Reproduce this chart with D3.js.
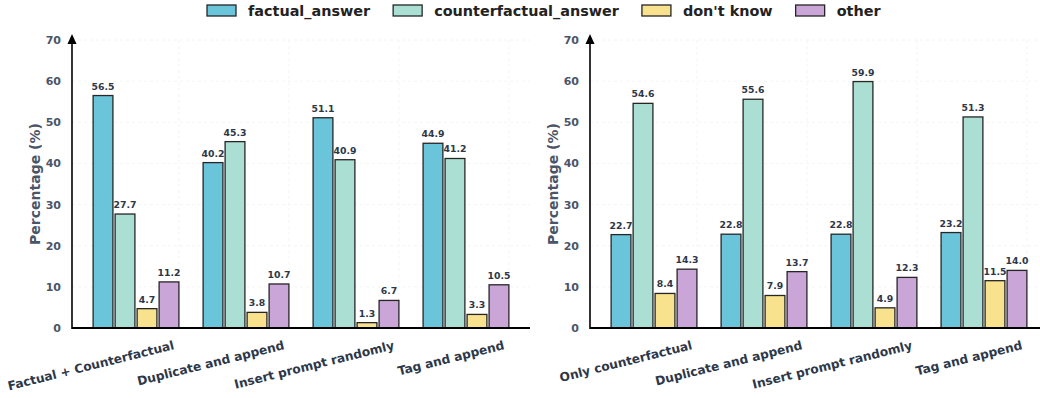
<!DOCTYPE html>
<html>
<head>
<meta charset="utf-8">
<script src="https://cdn.jsdelivr.net/npm/d3@7"></script>
<style>
  html, body { margin: 0; padding: 0; background: #fff; }
  svg { display: block; font-family: "DejaVu Sans", sans-serif; }
</style>
</head>
<body>
<svg id="chart" width="1040" height="398"></svg>
<script>
// Series names and colours
const seriesNames = ["factual_answer", "counterfactual_answer", "don't know", "other"];
const seriesColors = ["#6ac5db", "#acdfd3", "#f8e28d", "#c9a5d8"];

// Left panel: prompting with factual + counterfactual context
const leftCategories = ["Factual + Counterfactual", "Duplicate and append", "Insert prompt randomly", "Tag and append"];
const leftFactual = [56.5, 40.2, 51.1, 44.9];
const leftCounterfactual = [27.7, 45.3, 40.9, 41.2];
const leftDontKnow = [4.7, 3.8, 1.3, 3.3];
const leftOther = [11.2, 10.7, 6.7, 10.5];

// Right panel: prompting with counterfactual context only
const rightCategories = ["Only counterfactual", "Duplicate and append", "Insert prompt randomly", "Tag and append"];
const rightFactual = [22.7, 22.8, 22.8, 23.2];
const rightCounterfactual = [54.6, 55.6, 59.9, 51.3];
const rightDontKnow = [8.4, 7.9, 4.9, 11.5];
const rightOther = [14.3, 13.7, 12.3, 14.0];

const yTicks = [0, 10, 20, 30, 40, 50, 60, 70];

const svg = d3.select("#chart");

const plotTop = 40, plotBottom = 328, plotWidth = 458;
const y = d3.scaleLinear().domain([0, 70]).range([plotBottom, plotTop]);

function drawPanel(x0, categories, series) {
  const g = svg.append("g").attr("transform", `translate(${x0},0)`);
  const x = d3.scaleLinear().domain([-0.582, 3.582]).range([0, plotWidth]);
  const slot = 0.2, barW = 0.18;
  const tickOffset = 0.39;

  // faint grid
  g.append("g").selectAll("line.hg").data(yTicks.filter(d => d > 0)).join("line")
    .attr("x1", 0).attr("x2", plotWidth)
    .attr("y1", d => y(d)).attr("y2", d => y(d))
    .attr("stroke", "#f1f1f1").attr("stroke-width", 0.8).attr("stroke-dasharray", "3,3");
  g.append("g").selectAll("line.vg").data(categories).join("line")
    .attr("x1", (d, i) => x(i + tickOffset)).attr("x2", (d, i) => x(i + tickOffset))
    .attr("y1", plotTop).attr("y2", plotBottom)
    .attr("stroke", "#f1f1f1").attr("stroke-width", 0.8).attr("stroke-dasharray", "3,3");

  // bars
  series.forEach((vals, j) => {
    const off = (j - 1.5) * slot;
    const sg = g.append("g");
    sg.selectAll("rect").data(vals).join("rect")
      .attr("x", (d, i) => x(i + off - barW / 2))
      .attr("width", x(barW) - x(0))
      .attr("y", d => y(d))
      .attr("height", d => y(0) - y(d))
      .attr("fill", seriesColors[j])
      .attr("stroke", "#262626")
      .attr("stroke-width", 1.3);
    sg.selectAll("text").data(vals).join("text")
      .attr("x", (d, i) => x(i + off))
      .attr("y", d => y(d) - 6)
      .attr("text-anchor", "middle")
      .attr("font-size", 9.3)
      .attr("font-weight", "bold")
      .attr("fill", "#2d3748")
      .text(d => d.toFixed(1));
  });

  // y axis tick labels
  g.append("g").selectAll("text").data(yTicks).join("text")
    .attr("x", -11).attr("y", d => y(d))
    .attr("dy", "0.36em")
    .attr("text-anchor", "end")
    .attr("font-size", 11)
    .attr("font-weight", "bold")
    .attr("fill", "#4a5568")
    .text(d => d);

  // x axis tick labels (rotated)
  g.append("g").selectAll("text").data(categories).join("text")
    .attr("transform", (d, i) => `translate(${x(i + tickOffset) - 4},349) rotate(-14)`)
    .attr("text-anchor", "end")
    .attr("font-size", 12.2)
    .attr("font-weight", "bold")
    .attr("fill", "#2d3748")
    .text(d => d);

  // axes
  g.append("line").attr("x1", 0).attr("x2", plotWidth)
    .attr("y1", plotBottom).attr("y2", plotBottom)
    .attr("stroke", "#000").attr("stroke-width", 2);
  g.append("line").attr("x1", 0).attr("x2", 0)
    .attr("y1", plotBottom + 1).attr("y2", 44)
    .attr("stroke", "#000").attr("stroke-width", 1.6);
  g.append("path").attr("d", "M0,34 L4.5,44 L-4.5,44 Z").attr("fill", "#000");

  // y axis title
  g.append("text")
    .attr("transform", `translate(-37,${(plotTop + plotBottom) / 2}) rotate(-90)`)
    .attr("text-anchor", "middle")
    .attr("dominant-baseline", "central")
    .attr("font-size", 14)
    .attr("font-weight", "bold")
    .attr("fill", "#4a5568")
    .text("Percentage (%)");
}

drawPanel(72, leftCategories, [leftFactual, leftCounterfactual, leftDontKnow, leftOther]);
drawPanel(590, rightCategories, [rightFactual, rightCounterfactual, rightDontKnow, rightOther]);

// legend across the top
const legend = svg.append("g");
let lx = 207;
seriesNames.forEach((name, j) => {
  legend.append("rect").attr("x", lx).attr("y", 5).attr("width", 29).attr("height", 11)
    .attr("fill", seriesColors[j]).attr("stroke", "#262626").attr("stroke-width", 1.3);
  const t = legend.append("text").attr("x", lx + 41).attr("y", 16)
    .attr("font-size", 14.4).attr("font-weight", "bold").attr("fill", "#222")
    .text(name);
  lx += 41 + t.node().getComputedTextLength() + 23;
});
</script>
</body>
</html>
